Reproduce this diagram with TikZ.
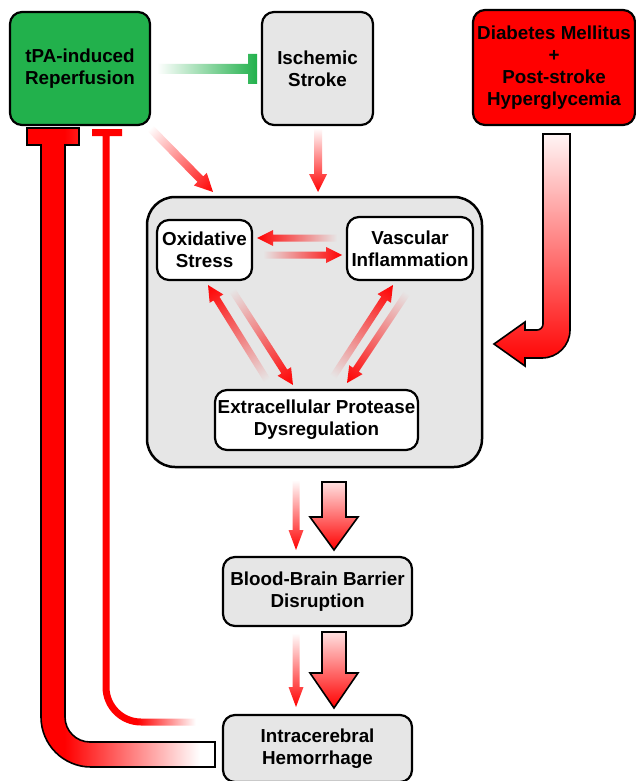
\documentclass[tikz,border=0pt]{standalone}
\usepackage{fontspec}
\setmainfont{Liberation Sans}
\usetikzlibrary{calc}
\definecolor{boxgray}{HTML}{E6E6E6}
\definecolor{tpagreen}{HTML}{22B14C}
\definecolor{dmred}{HTML}{FF0000}
% declared shadings: the path's bounding box maps to 25bp..75bp
\pgfdeclarehorizontalshading{thickfade}{100bp}{color(0bp)=(red); color(35bp)=(red); color(71bp)=(white); color(100bp)=(white)}
\pgfdeclarehorizontalshading{thinfade}{100bp}{color(0bp)=(red); color(46bp)=(red); color(73bp)=(white); color(100bp)=(white)}
% gradient arrow: from, to, background colour, shaft half width, head half width, head length
\newcommand\gradarrow[6]{%
  \path let \p1=($(#2)-(#1)$) in \pgfextra{%
    \pgfmathsetmacro\gaAng{atan2(\y1,\x1)}%
    \pgfmathsetmacro\gaLen{veclen(\x1,\y1)}%
    \global\let\gaAng\gaAng \global\let\gaLen\gaLen};
  \begin{scope}[transform canvas={shift={(#1)},rotate=\gaAng}]
    \shade[left color=#3, middle color=red!70!#3, right color=red]
      (0,#4) -- ({\gaLen-#6},#4) -- ({\gaLen-#6},#5) -- (\gaLen,0)
      -- ({\gaLen-#6},-#5) -- ({\gaLen-#6},-#4) -- (0,-#4) -- cycle;
  \end{scope}}
\tikzset{
  box/.style={draw=black, line width=2.2pt, rounded corners=12pt, align=center,
    font=\bfseries\fontsize{18.8}{22}\selectfont, inner sep=1pt},
  bigdown/.style={top color=red!12, bottom color=red, draw=black, line width=1.6pt, line join=miter},
}
\begin{document}
\begin{tikzpicture}[x=1pt,y=1pt]
\useasboundingbox[fill=white] (0,0) rectangle (636,-781);

% top row
\node[box, fill=tpagreen, minimum width=140pt, minimum height=113pt] (tpa) at (80,-68.5) {tPA-induced\\Reperfusion};
\node[box, fill=boxgray, minimum width=111pt, minimum height=113pt] (isch) at (317.5,-68.5) {Ischemic\\Stroke};
\node[box, fill=dmred, minimum width=162pt, minimum height=115pt] (diab) at (554,-67.5) {Diabetes Mellitus\\+\\Post-stroke\\Hyperglycemia};

% core container
\node[draw=black, line width=2.5pt, rounded corners=28pt, fill=boxgray, minimum width=335pt, minimum height=270pt] (core) at (314.5,-332) {};
\node[box, fill=white, minimum width=95pt, minimum height=60pt] (ox) at (204.5,-250) {Oxidative\\Stress};
\node[box, fill=white, minimum width=126pt, minimum height=63pt] (vasc) at (410,-248.5) {Vascular\\Inflammation};
\node[box, fill=white, minimum width=203pt, minimum height=60pt] (ecp) at (316.5,-420) {Extracellular Protease\\Dysregulation};

% lower boxes
\node[box, fill=boxgray, minimum width=189pt, minimum height=69pt] (bbb) at (317.5,-591.5) {Blood-Brain Barrier\\Disruption};
\node[box, fill=boxgray, minimum width=189pt, minimum height=67pt] (ich) at (317.5,-748.5) {Intracerebral\\Hemorrhage};

% connector end points
\coordinate (tpaA) at (150,-128);  \coordinate (coreA) at (213,-192);
\coordinate (ischA) at (318,-128); \coordinate (coreB) at (318,-192);
\coordinate (v2oS) at (337,-238);  \coordinate (v2oE) at (257,-238);
\coordinate (o2vS) at (263,-255);  \coordinate (o2vE) at (342,-255);
\coordinate (e2oS) at (267,-380);  \coordinate (e2oE) at (208,-285);
\coordinate (o2eS) at (232,-290);  \coordinate (o2eE) at (293,-385);
\coordinate (e2vS) at (333,-377);  \coordinate (e2vE) at (393,-285);
\coordinate (v2eS) at (407,-293);  \coordinate (v2eE) at (347,-383);
\coordinate (c2bS) at (296,-480);  \coordinate (c2bE) at (296,-550);
\coordinate (b2iS) at (296,-633);  \coordinate (b2iE) at (296,-707);

% green inhibition: tPA -| Ischemic stroke
\shade[left color=white, middle color=tpagreen!80!white, right color=tpagreen]
  (157,-64) -- (248,-64) -- (248,-54) -- (257,-54) -- (257,-84) -- (248,-84) -- (248,-74) -- (157,-74) -- cycle;

% top arrows into core
\gradarrow{tpaA}{coreA}{white}{4}{9}{18}
\gradarrow{ischA}{coreB}{white}{4}{9}{18}

% inner arrows
\gradarrow{v2oS}{v2oE}{boxgray}{3.5}{8}{16}
\gradarrow{o2vS}{o2vE}{boxgray}{3.5}{8}{16}
\gradarrow{e2oS}{e2oE}{boxgray}{3.5}{8}{16}
\gradarrow{o2eS}{o2eE}{boxgray}{3.5}{8}{16}
\gradarrow{e2vS}{e2vE}{boxgray}{3.5}{8}{16}
\gradarrow{v2eS}{v2eE}{boxgray}{3.5}{8}{16}

% downward arrows
\gradarrow{c2bS}{c2bE}{white}{3.5}{7.5}{20}
\gradarrow{b2iS}{b2iE}{white}{3.5}{7.5}{20}
\shade[bigdown] (322,-482) -- (346,-482) -- (346,-517) -- (358,-517) -- (334,-550) -- (310,-517) -- (322,-517) -- cycle;
\shade[bigdown] (322,-632) -- (346,-632) -- (346,-673) -- (358,-673) -- (334,-708) -- (310,-673) -- (322,-673) -- cycle;

% diabetes J arrow into core
\shade[top color=red!4, bottom color=red, draw=black, line width=1.6pt, line join=miter]
  (543,-134) -- (570,-134) -- (570,-330) arc[start angle=0, end angle=-90, radius=28]
  -- (525,-358) -- (525,-366) -- (494,-344) -- (525,-322) -- (525,-330) -- (537,-330)
  arc[start angle=-90, end angle=0, radius=6] -- cycle;

% thick feedback: hemorrhage -| tPA
\shade[shading=thickfade, draw=black, line width=1.6pt, line join=miter]
  (41,-145) -- (27,-145) -- (27,-128) -- (79,-128) -- (79,-145) -- (65,-145)
  -- (65,-717) arc[start angle=180, end angle=270, radius=25]
  -- (215,-742) -- (215,-767) -- (91,-767) arc[start angle=270, end angle=180, radius=50]
  -- cycle;

% thin feedback
\shade[shading=thinfade]
  (102.5,-136) -- (92,-136) -- (92,-129) -- (122,-129) -- (122,-136) -- (109.5,-136)
  -- (109.5,-687) arc[start angle=180, end angle=270, radius=31.5]
  -- (200,-718.5) -- (200,-725.5) -- (141,-725.5) arc[start angle=270, end angle=180, radius=38.5]
  -- cycle;
\end{tikzpicture}
\end{document}
